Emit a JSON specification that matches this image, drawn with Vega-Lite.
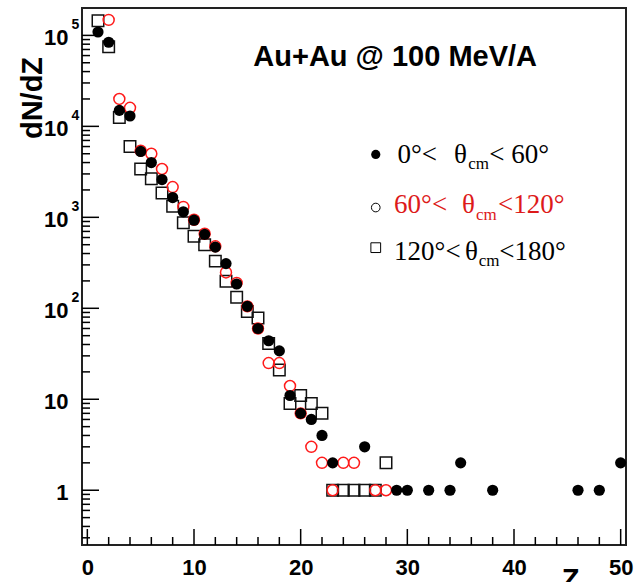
{
  "$schema": "https://vega.github.io/schema/vega-lite/v6.json",
  "width": 544,
  "height": 537,
  "autosize": "none",
  "padding": {"left": 82, "top": 8, "right": 14, "bottom": 37},
  "background": "white",
  "config": {"view": {"stroke": "#222", "strokeWidth": 2}},
  "data": {"values": [
    {"s": "a", "z": 1, "n": 109000}, {"s": "a", "z": 2, "n": 84000}, {"s": "a", "z": 3, "n": 15000}, {"s": "a", "z": 4, "n": 13000},
    {"s": "a", "z": 5, "n": 5300}, {"s": "a", "z": 6, "n": 4000}, {"s": "a", "z": 7, "n": 2600}, {"s": "a", "z": 8, "n": 1650},
    {"s": "a", "z": 9, "n": 1150}, {"s": "a", "z": 10, "n": 930}, {"s": "a", "z": 11, "n": 650}, {"s": "a", "z": 12, "n": 470},
    {"s": "a", "z": 13, "n": 310}, {"s": "a", "z": 14, "n": 185}, {"s": "a", "z": 15, "n": 105}, {"s": "a", "z": 16, "n": 60},
    {"s": "a", "z": 17, "n": 44}, {"s": "a", "z": 18, "n": 34}, {"s": "a", "z": 19, "n": 11}, {"s": "a", "z": 20, "n": 7},
    {"s": "a", "z": 21, "n": 6}, {"s": "a", "z": 22, "n": 4}, {"s": "a", "z": 23, "n": 2}, {"s": "a", "z": 26, "n": 3},
    {"s": "a", "z": 29, "n": 1}, {"s": "a", "z": 30, "n": 1}, {"s": "a", "z": 32, "n": 1}, {"s": "a", "z": 34, "n": 1},
    {"s": "a", "z": 35, "n": 2}, {"s": "a", "z": 38, "n": 1}, {"s": "a", "z": 46, "n": 1}, {"s": "a", "z": 48, "n": 1},
    {"s": "a", "z": 50, "n": 2},
    {"s": "b", "z": 2, "n": 148000}, {"s": "b", "z": 3, "n": 20000}, {"s": "b", "z": 4, "n": 16000}, {"s": "b", "z": 5, "n": 5400},
    {"s": "b", "z": 6, "n": 5000}, {"s": "b", "z": 7, "n": 3400}, {"s": "b", "z": 8, "n": 2150}, {"s": "b", "z": 9, "n": 1300},
    {"s": "b", "z": 10, "n": 940}, {"s": "b", "z": 11, "n": 660}, {"s": "b", "z": 12, "n": 480}, {"s": "b", "z": 13, "n": 248},
    {"s": "b", "z": 14, "n": 190}, {"s": "b", "z": 15, "n": 105}, {"s": "b", "z": 16, "n": 60}, {"s": "b", "z": 17, "n": 25},
    {"s": "b", "z": 18, "n": 25}, {"s": "b", "z": 19, "n": 14}, {"s": "b", "z": 20, "n": 7}, {"s": "b", "z": 21, "n": 3},
    {"s": "b", "z": 22, "n": 2}, {"s": "b", "z": 23, "n": 1}, {"s": "b", "z": 24, "n": 2}, {"s": "b", "z": 25, "n": 2},
    {"s": "b", "z": 27, "n": 1}, {"s": "b", "z": 28, "n": 1},
    {"s": "c", "z": 1, "n": 145000}, {"s": "c", "z": 2, "n": 75000}, {"s": "c", "z": 3, "n": 12500}, {"s": "c", "z": 4, "n": 6000},
    {"s": "c", "z": 5, "n": 3400}, {"s": "c", "z": 6, "n": 2650}, {"s": "c", "z": 7, "n": 1850}, {"s": "c", "z": 8, "n": 1320},
    {"s": "c", "z": 9, "n": 870}, {"s": "c", "z": 10, "n": 620}, {"s": "c", "z": 11, "n": 500}, {"s": "c", "z": 12, "n": 330},
    {"s": "c", "z": 13, "n": 198}, {"s": "c", "z": 14, "n": 132}, {"s": "c", "z": 15, "n": 92}, {"s": "c", "z": 16, "n": 78},
    {"s": "c", "z": 17, "n": 41}, {"s": "c", "z": 18, "n": 21}, {"s": "c", "z": 19, "n": 9}, {"s": "c", "z": 20, "n": 11},
    {"s": "c", "z": 21, "n": 9}, {"s": "c", "z": 22, "n": 7}, {"s": "c", "z": 23, "n": 1}, {"s": "c", "z": 24, "n": 1},
    {"s": "c", "z": 25, "n": 1}, {"s": "c", "z": 26, "n": 1}, {"s": "c", "z": 27, "n": 1}, {"s": "c", "z": 28, "n": 2},
    {"s": "xM", "z": 0}, {"s": "xM", "z": 10}, {"s": "xM", "z": 20}, {"s": "xM", "z": 30}, {"s": "xM", "z": 40}, {"s": "xM", "z": 50},
    {"s": "xm", "z": 2}, {"s": "xm", "z": 4}, {"s": "xm", "z": 6}, {"s": "xm", "z": 8}, {"s": "xm", "z": 12}, {"s": "xm", "z": 14},
    {"s": "xm", "z": 16}, {"s": "xm", "z": 18}, {"s": "xm", "z": 22}, {"s": "xm", "z": 24}, {"s": "xm", "z": 26}, {"s": "xm", "z": 28},
    {"s": "xm", "z": 32}, {"s": "xm", "z": 34}, {"s": "xm", "z": 36}, {"s": "xm", "z": 38}, {"s": "xm", "z": 42}, {"s": "xm", "z": 44},
    {"s": "xm", "z": 46}, {"s": "xm", "z": 48},
    {"s": "yM", "n": 1}, {"s": "yM", "n": 10}, {"s": "yM", "n": 100}, {"s": "yM", "n": 1000}, {"s": "yM", "n": 10000}, {"s": "yM", "n": 100000},
    {"s": "ym", "n": 0.3}, {"s": "ym", "n": 0.4}, {"s": "ym", "n": 0.5}, {"s": "ym", "n": 0.6}, {"s": "ym", "n": 0.7}, {"s": "ym", "n": 0.8}, {"s": "ym", "n": 0.9},
    {"s": "ym", "n": 2}, {"s": "ym", "n": 3}, {"s": "ym", "n": 4}, {"s": "ym", "n": 5}, {"s": "ym", "n": 6}, {"s": "ym", "n": 7}, {"s": "ym", "n": 8}, {"s": "ym", "n": 9},
    {"s": "ym", "n": 20}, {"s": "ym", "n": 30}, {"s": "ym", "n": 40}, {"s": "ym", "n": 50}, {"s": "ym", "n": 60}, {"s": "ym", "n": 70}, {"s": "ym", "n": 80}, {"s": "ym", "n": 90},
    {"s": "ym", "n": 200}, {"s": "ym", "n": 300}, {"s": "ym", "n": 400}, {"s": "ym", "n": 500}, {"s": "ym", "n": 600}, {"s": "ym", "n": 700}, {"s": "ym", "n": 800}, {"s": "ym", "n": 900},
    {"s": "ym", "n": 2000}, {"s": "ym", "n": 3000}, {"s": "ym", "n": 4000}, {"s": "ym", "n": 5000}, {"s": "ym", "n": 6000}, {"s": "ym", "n": 7000}, {"s": "ym", "n": 8000}, {"s": "ym", "n": 9000},
    {"s": "ym", "n": 20000}, {"s": "ym", "n": 30000}, {"s": "ym", "n": 40000}, {"s": "ym", "n": 50000}, {"s": "ym", "n": 60000}, {"s": "ym", "n": 70000}, {"s": "ym", "n": 80000}, {"s": "ym", "n": 90000}
  ]},
  "resolve": {"axis": {"x": "independent", "y": "independent"}},
  "layer": [
    {
      "transform": [{"filter": "datum.s === 'c'"}],
      "mark": {"type": "point", "shape": "square", "filled": false, "color": "#111", "strokeWidth": 1.5, "size": 132, "opacity": 1},
      "encoding": {
        "x": {"field": "z", "type": "quantitative", "scale": {"domain": [-0.5, 50.5], "nice": false, "zero": false},
          "axis": {"orient": "bottom", "values": [0, 10, 20, 30, 40, 50], "ticks": false,
            "domain": false, "grid": false, "labelFont": "Liberation Sans", "labelFontSize": 22, "labelFontWeight": "bold",
            "labelColor": "black", "labelBaseline": "alphabetic", "labelPadding": 29, "labelFlush": false, "labelOverlap": false,
            "title": "Z", "titleFont": "Liberation Sans", "titleFontSize": 29, "titleFontWeight": "bold", "titleColor": "black",
            "titleX": 488, "titleY": 43, "titleBaseline": "alphabetic", "titleAlign": "center"}},
        "y": {"field": "n", "type": "quantitative", "scale": {"type": "log", "domain": [0.25, 200000], "nice": false},
          "axis": {"orient": "left", "values": [1, 10, 100, 1000, 10000, 100000], "labelExpr": "datum.value < 5 ? '1' : '10'",
            "ticks": false, "domain": false, "grid": false,
            "labelFont": "Liberation Sans", "labelFontSize": 22, "labelFontWeight": "bold", "labelColor": "black",
            "labelAlign": "right", "labelBaseline": "alphabetic", "labelOffset": 9, "labelPadding": 14, "labelFlush": false, "labelOverlap": false,
            "title": "dN/dZ", "titleFont": "Liberation Sans", "titleFontSize": 29, "titleFontWeight": "bold", "titleColor": "black",
            "titleAngle": -90, "titleX": -41, "titleY": 89.5, "titleAlign": "center", "titleBaseline": "alphabetic"}}
      }
    },
    {
      "transform": [{"filter": "datum.s === 'b'"}],
      "mark": {"type": "point", "shape": "circle", "filled": false, "color": "#ff1a1a", "strokeWidth": 1.5, "size": 120, "opacity": 1},
      "encoding": {
        "x": {"field": "z", "type": "quantitative", "scale": {"domain": [-0.5, 50.5], "nice": false, "zero": false}, "axis": null},
        "y": {"field": "n", "type": "quantitative", "scale": {"type": "log", "domain": [0.25, 200000], "nice": false}, "axis": null}
      }
    },
    {
      "transform": [{"filter": "datum.s === 'a'"}],
      "mark": {"type": "point", "shape": "circle", "filled": true, "color": "black", "size": 125, "opacity": 1},
      "encoding": {
        "x": {"field": "z", "type": "quantitative", "scale": {"domain": [-0.5, 50.5], "nice": false, "zero": false}, "axis": null},
        "y": {"field": "n", "type": "quantitative", "scale": {"type": "log", "domain": [0.25, 200000], "nice": false},
          "axis": {"orient": "left", "values": [100, 1000, 10000, 100000], "labelExpr": "'' + round(log(datum.value) / LN10)",
            "ticks": false, "domain": false, "grid": false, "labelFont": "Liberation Sans", "labelFontSize": 14,
            "labelFontWeight": "bold", "labelColor": "black", "labelAlign": "left", "labelBaseline": "alphabetic",
            "labelOffset": -7, "labelPadding": 11, "labelFlush": false, "labelOverlap": false, "title": null}}
      }
    },
    {
      "transform": [{"filter": "datum.s === 'xM'"}],
      "mark": {"type": "point", "shape": "M0,0L0,-1", "filled": false, "color": "black", "strokeWidth": 1.5, "size": 1024, "opacity": 1},
      "encoding": {
        "x": {"field": "z", "type": "quantitative", "scale": {"domain": [-0.5, 50.5], "nice": false, "zero": false}, "axis": null},
        "y": {"datum": 0.25, "type": "quantitative", "scale": {"type": "log", "domain": [0.25, 200000], "nice": false}, "axis": null}
      }
    },
    {
      "transform": [{"filter": "datum.s === 'xm'"}],
      "mark": {"type": "point", "shape": "M0,0L0,-1", "filled": false, "color": "black", "strokeWidth": 1.5, "size": 256, "opacity": 1},
      "encoding": {
        "x": {"field": "z", "type": "quantitative", "scale": {"domain": [-0.5, 50.5], "nice": false, "zero": false}, "axis": null},
        "y": {"datum": 0.25, "type": "quantitative", "scale": {"type": "log", "domain": [0.25, 200000], "nice": false}, "axis": null}
      }
    },
    {
      "transform": [{"filter": "datum.s === 'yM'"}],
      "mark": {"type": "point", "shape": "M0,0L1,0", "filled": false, "color": "black", "strokeWidth": 1.5, "size": 1156, "opacity": 1},
      "encoding": {
        "y": {"field": "n", "type": "quantitative", "scale": {"type": "log", "domain": [0.25, 200000], "nice": false}, "axis": null},
        "x": {"datum": -0.5, "type": "quantitative", "scale": {"domain": [-0.5, 50.5], "nice": false, "zero": false}, "axis": null}
      }
    },
    {
      "transform": [{"filter": "datum.s === 'ym'"}],
      "mark": {"type": "point", "shape": "M0,0L1,0", "filled": false, "color": "black", "strokeWidth": 1.5, "size": 256, "opacity": 1},
      "encoding": {
        "y": {"field": "n", "type": "quantitative", "scale": {"type": "log", "domain": [0.25, 200000], "nice": false}, "axis": null},
        "x": {"datum": -0.5, "type": "quantitative", "scale": {"domain": [-0.5, 50.5], "nice": false, "zero": false}, "axis": null}
      }
    },
    {
      "data": {"values": [{}]},
      "mark": {"type": "text", "text": "Au+Au @ 100 MeV/A", "font": "Liberation Sans", "fontSize": 29, "fontWeight": "bold", "align": "left", "baseline": "alphabetic", "color": "black"},
      "encoding": {
        "x": {"datum": 15.56, "type": "quantitative", "scale": {"domain": [-0.5, 50.5], "nice": false, "zero": false}, "axis": null},
        "y": {"datum": 45800, "type": "quantitative", "scale": {"type": "log", "domain": [0.25, 200000], "nice": false}, "axis": null}
      }
    },
    {
      "data": {"values": [{}]},
      "mark": {"type": "point", "shape": "circle", "filled": true, "color": "black", "size": 85, "opacity": 1},
      "encoding": {
        "x": {"datum": 27.04, "type": "quantitative", "scale": {"domain": [-0.5, 50.5], "nice": false, "zero": false}, "axis": null},
        "y": {"datum": 4916, "type": "quantitative", "scale": {"type": "log", "domain": [0.25, 200000], "nice": false}, "axis": null}
      }
    },
    {
      "data": {"values": [{}]},
      "mark": {"type": "point", "shape": "circle", "filled": false, "color": "black", "strokeWidth": 1, "size": 75, "opacity": 1},
      "encoding": {
        "x": {"datum": 27.04, "type": "quantitative", "scale": {"domain": [-0.5, 50.5], "nice": false, "zero": false}, "axis": null},
        "y": {"datum": 1281, "type": "quantitative", "scale": {"type": "log", "domain": [0.25, 200000], "nice": false}, "axis": null}
      }
    },
    {
      "data": {"values": [{}]},
      "mark": {"type": "point", "shape": "square", "filled": false, "color": "black", "strokeWidth": 1, "size": 95, "opacity": 1},
      "encoding": {
        "x": {"datum": 27.04, "type": "quantitative", "scale": {"domain": [-0.5, 50.5], "nice": false, "zero": false}, "axis": null},
        "y": {"datum": 464, "type": "quantitative", "scale": {"type": "log", "domain": [0.25, 200000], "nice": false}, "axis": null}
      }
    },
    {
      "data": {"values": [{}]},
      "mark": {"type": "text", "text": "0°<", "font": "Liberation Serif", "fontSize": 27, "align": "left", "baseline": "alphabetic", "color": "black"},
      "encoding": {
        "x": {"datum": 29.08, "type": "quantitative", "scale": {"domain": [-0.5, 50.5], "nice": false, "zero": false}, "axis": null},
        "y": {"datum": 3981, "type": "quantitative", "scale": {"type": "log", "domain": [0.25, 200000], "nice": false}, "axis": null}
      }
    },
    {
      "data": {"values": [{}]},
      "mark": {"type": "text", "text": "θ", "font": "Liberation Serif", "fontSize": 27, "align": "left", "baseline": "alphabetic", "color": "black"},
      "encoding": {
        "x": {"datum": 34.37, "type": "quantitative", "scale": {"domain": [-0.5, 50.5], "nice": false, "zero": false}, "axis": null},
        "y": {"datum": 3981, "type": "quantitative", "scale": {"type": "log", "domain": [0.25, 200000], "nice": false}, "axis": null}
      }
    },
    {
      "data": {"values": [{}]},
      "mark": {"type": "text", "text": "cm", "font": "Liberation Serif", "fontSize": 17, "align": "left", "baseline": "alphabetic", "color": "black"},
      "encoding": {
        "x": {"datum": 35.7, "type": "quantitative", "scale": {"domain": [-0.5, 50.5], "nice": false, "zero": false}, "axis": null},
        "y": {"datum": 3420, "type": "quantitative", "scale": {"type": "log", "domain": [0.25, 200000], "nice": false}, "axis": null}
      }
    },
    {
      "data": {"values": [{}]},
      "mark": {"type": "text", "text": "< 60°", "font": "Liberation Serif", "fontSize": 27, "align": "left", "baseline": "alphabetic", "color": "black"},
      "encoding": {
        "x": {"datum": 37.68, "type": "quantitative", "scale": {"domain": [-0.5, 50.5], "nice": false, "zero": false}, "axis": null},
        "y": {"datum": 3981, "type": "quantitative", "scale": {"type": "log", "domain": [0.25, 200000], "nice": false}, "axis": null}
      }
    },
    {
      "data": {"values": [{}]},
      "mark": {"type": "text", "text": "60°<", "font": "Liberation Serif", "fontSize": 27, "align": "left", "baseline": "alphabetic", "color": "#dd1a1a"},
      "encoding": {
        "x": {"datum": 28.76, "type": "quantitative", "scale": {"domain": [-0.5, 50.5], "nice": false, "zero": false}, "axis": null},
        "y": {"datum": 1119, "type": "quantitative", "scale": {"type": "log", "domain": [0.25, 200000], "nice": false}, "axis": null}
      }
    },
    {
      "data": {"values": [{}]},
      "mark": {"type": "text", "text": "θ", "font": "Liberation Serif", "fontSize": 27, "align": "left", "baseline": "alphabetic", "color": "#dd1a1a"},
      "encoding": {
        "x": {"datum": 35.12, "type": "quantitative", "scale": {"domain": [-0.5, 50.5], "nice": false, "zero": false}, "axis": null},
        "y": {"datum": 1119, "type": "quantitative", "scale": {"type": "log", "domain": [0.25, 200000], "nice": false}, "axis": null}
      }
    },
    {
      "data": {"values": [{}]},
      "mark": {"type": "text", "text": "cm", "font": "Liberation Serif", "fontSize": 17, "align": "left", "baseline": "alphabetic", "color": "#dd1a1a"},
      "encoding": {
        "x": {"datum": 36.43, "type": "quantitative", "scale": {"domain": [-0.5, 50.5], "nice": false, "zero": false}, "axis": null},
        "y": {"datum": 944, "type": "quantitative", "scale": {"type": "log", "domain": [0.25, 200000], "nice": false}, "axis": null}
      }
    },
    {
      "data": {"values": [{}]},
      "mark": {"type": "text", "text": "<120°", "font": "Liberation Serif", "fontSize": 27, "align": "left", "baseline": "alphabetic", "color": "#dd1a1a"},
      "encoding": {
        "x": {"datum": 38.5, "type": "quantitative", "scale": {"domain": [-0.5, 50.5], "nice": false, "zero": false}, "axis": null},
        "y": {"datum": 1119, "type": "quantitative", "scale": {"type": "log", "domain": [0.25, 200000], "nice": false}, "axis": null}
      }
    },
    {
      "data": {"values": [{}]},
      "mark": {"type": "text", "text": "120°<", "font": "Liberation Serif", "fontSize": 27, "align": "left", "baseline": "alphabetic", "color": "black"},
      "encoding": {
        "x": {"datum": 28.76, "type": "quantitative", "scale": {"domain": [-0.5, 50.5], "nice": false, "zero": false}, "axis": null},
        "y": {"datum": 342, "type": "quantitative", "scale": {"type": "log", "domain": [0.25, 200000], "nice": false}, "axis": null}
      }
    },
    {
      "data": {"values": [{}]},
      "mark": {"type": "text", "text": "θ", "font": "Liberation Serif", "fontSize": 27, "align": "left", "baseline": "alphabetic", "color": "black"},
      "encoding": {
        "x": {"datum": 35.4, "type": "quantitative", "scale": {"domain": [-0.5, 50.5], "nice": false, "zero": false}, "axis": null},
        "y": {"datum": 342, "type": "quantitative", "scale": {"type": "log", "domain": [0.25, 200000], "nice": false}, "axis": null}
      }
    },
    {
      "data": {"values": [{}]},
      "mark": {"type": "text", "text": "cm", "font": "Liberation Serif", "fontSize": 17, "align": "left", "baseline": "alphabetic", "color": "black"},
      "encoding": {
        "x": {"datum": 36.7, "type": "quantitative", "scale": {"domain": [-0.5, 50.5], "nice": false, "zero": false}, "axis": null},
        "y": {"datum": 294, "type": "quantitative", "scale": {"type": "log", "domain": [0.25, 200000], "nice": false}, "axis": null}
      }
    },
    {
      "data": {"values": [{}]},
      "mark": {"type": "text", "text": "<180°", "font": "Liberation Serif", "fontSize": 27, "align": "left", "baseline": "alphabetic", "color": "black"},
      "encoding": {
        "x": {"datum": 38.62, "type": "quantitative", "scale": {"domain": [-0.5, 50.5], "nice": false, "zero": false}, "axis": null},
        "y": {"datum": 342, "type": "quantitative", "scale": {"type": "log", "domain": [0.25, 200000], "nice": false}, "axis": null}
      }
    }
  ]
}
